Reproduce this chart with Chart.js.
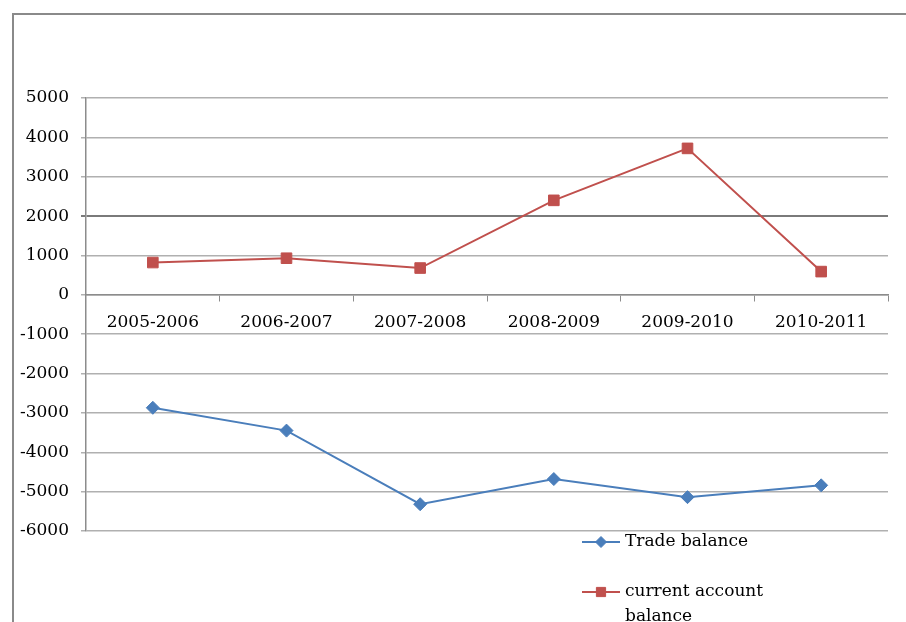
<!DOCTYPE html>
<html>
<head>
<meta charset="utf-8">
<script src="https://cdn.jsdelivr.net/npm/chart.js@4/dist/chart.umd.min.js"></script>
<style>
  html, body { margin: 0; padding: 0; background: #ffffff; }
  #wrap { width: 906px; height: 622px; position: relative; overflow: hidden; }
</style>
</head>
<body>
<div id="wrap"><canvas id="c" width="906" height="622"></canvas></div>
<script>
// Fiscal years
const periods = ['2005-2006', '2006-2007', '2007-2008', '2008-2009', '2009-2010', '2010-2011'];
// Trade balance per year
const tradeBalance = [-2870, -3450, -5320, -4680, -5140, -4840];
// Current account balance per year
const currentAccountBalance = [820, 930, 680, 2400, 3720, 590];
// Value axis range
const yMin = -6000;
const yMax = 5000;
const yStep = 1000;

const FONT = { family: '"DejaVu Serif", "Liberation Serif", serif', size: 17 };
const BLUE = '#4a7ebb';
const RED = '#c0504d';

// Outer frame of the chart object
const framePlugin = {
  id: 'frame',
  beforeDraw(chart) {
    const ctx = chart.ctx;
    ctx.save();
    ctx.fillStyle = '#ffffff';
    ctx.fillRect(0, 0, chart.width, chart.height);
    ctx.strokeStyle = '#8a8a8a';
    ctx.lineWidth = 2;
    ctx.beginPath();
    ctx.moveTo(13, chart.height + 2);
    ctx.lineTo(13, 14);
    ctx.lineTo(chart.width + 2, 14);
    ctx.stroke();
    ctx.restore();
  }
};

// Legend placed inside the lower right, wrapping long names
const sideLegend = {
  id: 'sideLegend',
  afterDraw(chart) {
    const ctx = chart.ctx;
    const entries = [
      { ds: chart.data.datasets[0], y: 542, lines: ['Trade balance'] },
      { ds: chart.data.datasets[1], y: 592, lines: ['current account', 'balance'] }
    ];
    ctx.save();
    entries.forEach(e => {
      const x0 = 582, x1 = 620;
      ctx.strokeStyle = e.ds.borderColor;
      ctx.lineWidth = 2;
      ctx.beginPath();
      ctx.moveTo(x0, e.y);
      ctx.lineTo(x1, e.y);
      ctx.stroke();
      ctx.fillStyle = e.ds.pointBackgroundColor;
      ctx.strokeStyle = e.ds.pointBorderColor;
      ctx.lineWidth = 1;
      Chart.helpers.drawPoint(ctx, {
        pointStyle: e.ds.pointStyle,
        radius: e.ds.pointRadius - 1,
        rotation: 0,
        borderWidth: 1
      }, (x0 + x1) / 2, e.y);
      ctx.fillStyle = '#000000';
      ctx.font = FONT.size + 'px ' + FONT.family;
      ctx.textBaseline = 'middle';
      ctx.textAlign = 'left';
      e.lines.forEach((t, i) => ctx.fillText(t, 625, e.y + i * 25));
    });
    ctx.restore();
  }
};

new Chart(document.getElementById('c'), {
  type: 'line',
  data: {
    labels: periods,
    datasets: [
      {
        label: 'Trade balance',
        data: tradeBalance,
        borderColor: BLUE,
        backgroundColor: BLUE,
        pointBackgroundColor: BLUE,
        pointBorderColor: BLUE,
        pointStyle: 'rectRot',
        pointRadius: 6.5,
        pointBorderWidth: 1,
        borderWidth: 2,
        tension: 0
      },
      {
        label: 'current account balance',
        data: currentAccountBalance,
        borderColor: RED,
        backgroundColor: RED,
        pointBackgroundColor: RED,
        pointBorderColor: RED,
        pointStyle: 'rect',
        pointRadius: 7.5,
        pointBorderWidth: 1,
        borderWidth: 2,
        tension: 0
      }
    ]
  },
  options: {
    responsive: false,
    animation: false,
    devicePixelRatio: 1,
    layout: { padding: { left: 0, top: 98, right: 18, bottom: 91 } },
    plugins: {
      legend: { display: false },
      tooltip: { enabled: false },
      title: { display: false }
    },
    scales: {
      x: {
        type: 'category',
        position: { y: 0 },
        offset: true,
        afterFit(scale) { scale.height = 0; },
        grid: {
          display: true,
          offset: true,
          drawOnChartArea: false,
          drawTicks: true,
          tickLength: 6,
          color: '#8c8c8c',
          lineWidth: 1
        },
        border: { display: true, color: '#8c8c8c', width: 1.5 },
        ticks: {
          color: '#000000',
          font: FONT,
          padding: 12,
          maxRotation: 0,
          autoSkip: false
        }
      },
      y: {
        min: yMin,
        max: yMax,
        afterFit(scale) { scale.width = 86; },
        ticks: {
          stepSize: yStep,
          color: '#000000',
          font: FONT,
          padding: 12,
          callback: v => String(v)
        },
        grid: {
          drawTicks: true,
          tickLength: 5,
          color: c => (c.tick && c.tick.value === 2000) ? '#7a7a7a' : '#b0b0b0',
          lineWidth: c => (c.tick && c.tick.value === 2000) ? 2 : 1.5
        },
        border: { display: true, color: '#8c8c8c', width: 1.5 }
      }
    }
  },
  plugins: [framePlugin, sideLegend]
});
</script>
</body>
</html>
